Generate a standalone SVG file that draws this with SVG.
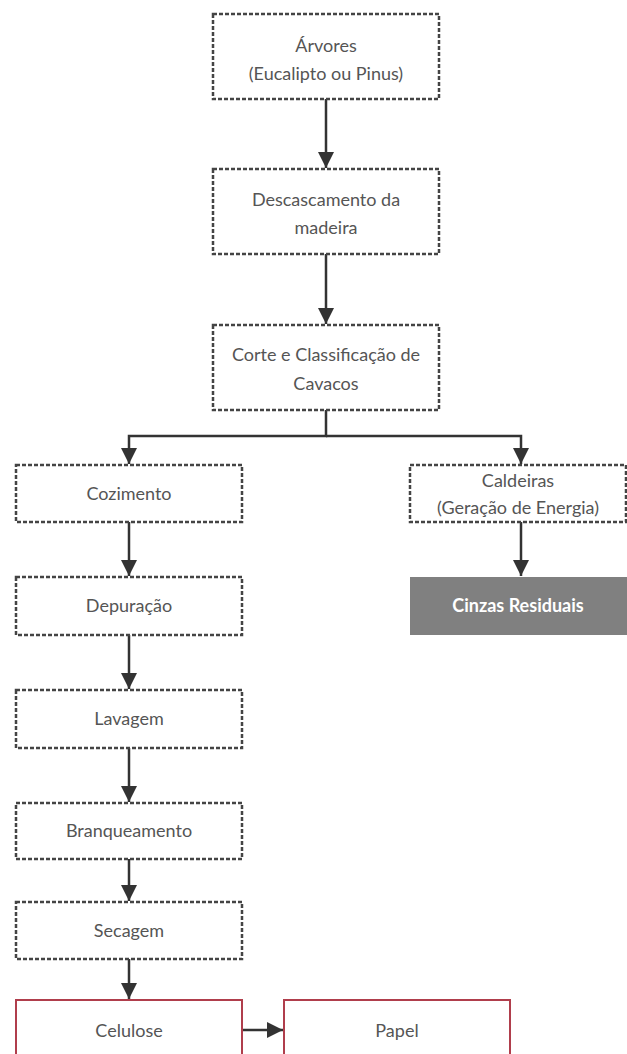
<svg xmlns="http://www.w3.org/2000/svg" width="627" height="1054" viewBox="0 0 627 1054">
<style>
.box{fill:#fff;stroke:#444;stroke-width:2.5;stroke-dasharray:4 2}
.red{fill:#fff;stroke:#b03e4c;stroke-width:2}
.gray{fill:#808080;stroke:none}
.t{font-family:Lato,"Liberation Sans",sans-serif;font-size:18px;fill:#555;text-anchor:middle}
.tw{font-family:Lato,"Liberation Sans",sans-serif;font-size:18px;font-weight:bold;fill:#fff;text-anchor:middle}
.c{fill:none;stroke:#333;stroke-width:2.5}
</style>
<defs>
<marker id="ah" viewBox="0 0 10 10" refX="10" refY="5" markerWidth="6.5" markerHeight="6.5" markerUnits="strokeWidth" orient="auto">
<path d="M0,0 L10,5 L0,10 z" fill="#333"/>
</marker>
</defs>
<rect width="627" height="1054" fill="#fff"/>
<g id="connectors">
<path class="c" d="M326,99 V168" marker-end="url(#ah)"/>
<path class="c" d="M326,254 V324" marker-end="url(#ah)"/>
<path class="c" d="M326,410 V436 H129 V464" marker-end="url(#ah)"/>
<path class="c" d="M326,436 H521 V464" marker-end="url(#ah)"/>
<path class="c" d="M521,522 V576" marker-end="url(#ah)"/>
<path class="c" d="M129,522 V576" marker-end="url(#ah)"/>
<path class="c" d="M129,635 V689" marker-end="url(#ah)"/>
<path class="c" d="M129,748 V802" marker-end="url(#ah)"/>
<path class="c" d="M129,859 V901" marker-end="url(#ah)"/>
<path class="c" d="M129,959 V999" marker-end="url(#ah)"/>
<path class="c" d="M242,1030 H283" marker-end="url(#ah)"/>
</g>
<g id="arvores"><rect class="box" x="213" y="14" width="226" height="85"/><text class="t" x="326" y="52">Árvores</text><text class="t" x="326" y="80">(Eucalipto ou Pinus)</text></g>
<g id="descascamento"><rect class="box" x="213" y="169" width="226" height="85"/><text class="t" x="326" y="206">Descascamento da</text><text class="t" x="326" y="234">madeira</text></g>
<g id="corte"><rect class="box" x="213" y="325" width="226" height="85"/><text class="t" x="326" y="361">Corte e Classificação de</text><text class="t" x="326" y="390">Cavacos</text></g>
<g id="cozimento"><rect class="box" x="16" y="465" width="226" height="57"/><text class="t" x="129" y="500">Cozimento</text></g>
<g id="caldeiras"><rect class="box" x="410" y="465" width="216" height="57"/><text class="t" x="518" y="487">Caldeiras</text><text class="t" x="518" y="514">(Geração de Energia)</text></g>
<g id="cinzas"><rect class="gray" x="410" y="577" width="217" height="58"/><text class="tw" x="518" y="612">Cinzas Residuais</text></g>
<g id="depuracao"><rect class="box" x="16" y="577" width="226" height="58"/><text class="t" x="129" y="612">Depuração</text></g>
<g id="lavagem"><rect class="box" x="16" y="690" width="226" height="58"/><text class="t" x="129" y="725">Lavagem</text></g>
<g id="branqueamento"><rect class="box" x="16" y="803" width="226" height="56"/><text class="t" x="129" y="837">Branqueamento</text></g>
<g id="secagem"><rect class="box" x="16" y="902" width="226" height="57"/><text class="t" x="129" y="937">Secagem</text></g>
<g id="celulose"><rect class="red" x="16" y="1000" width="226" height="70"/><text class="t" x="129" y="1037">Celulose</text></g>
<g id="papel"><rect class="red" x="284" y="1000" width="226" height="70"/><text class="t" x="397" y="1037">Papel</text></g>
</svg>
